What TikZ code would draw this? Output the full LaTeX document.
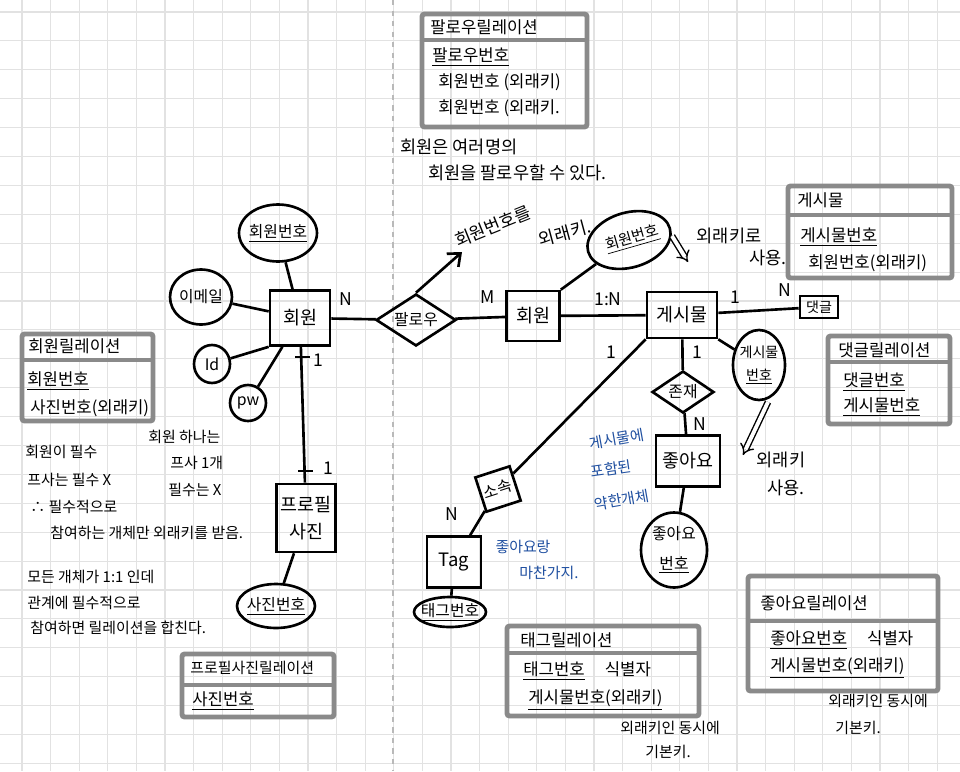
\documentclass[tikz,border=0pt]{standalone}
\usepackage{fontspec}
\setmainfont{Noto Sans CJK KR}
\usepackage{tikz}
\usetikzlibrary{arrows.meta,shapes,positioning,calc}

\definecolor{inkblue}{HTML}{1F4FA0}
\definecolor{gridgray}{HTML}{E2E2E2}
\definecolor{framegray}{HTML}{8A8A8A}

\tikzset{
    entity/.style={draw, line width=1.5pt, inner sep=2pt, font=\fontsize{10.5}{13}\selectfont},
    attr/.style={draw, ellipse, line width=1.5pt, inner sep=0pt},
    attrtext/.style={font=\fontsize{9}{11}\selectfont, align=center, inner sep=0pt},
    rel/.style={draw, diamond, line width=1.5pt, inner sep=0pt},
    reltext/.style={font=\fontsize{9}{11}\selectfont, inner sep=0pt},
    link/.style={line width=1.5pt},
    card/.style={font=\fontsize{10}{12}\selectfont, inner sep=0pt},
    note/.style={font=\fontsize{10}{12}\selectfont, anchor=west, inner sep=0pt},
    smallnote/.style={font=\fontsize{8.5}{10}\selectfont, anchor=west, inner sep=0pt},
    bluenote/.style={font=\fontsize{8.5}{10}\selectfont, text=inkblue, inner sep=0pt},
    reltable/.style={font=\fontsize{9.5}{11}\selectfont, anchor=west, inner sep=0pt},
    relframe/.style={draw=framegray, line width=2.8pt, rounded corners=1.5pt},
    fkarrow/.style={line width=0.8pt, double distance=2.2pt, -{Implies}},
}

\begin{document}
\begin{tikzpicture}[x=0.02cm, y=-0.02cm]

    % page
    \useasboundingbox (0,0) rectangle (960,771);
    \fill[white] (0,0) rectangle (960,771);

    % grid paper
    \foreach \i in {0,...,32} {
        \draw[gridgray, line width=0.6pt] ({22+28.6*\i},0) -- ({22+28.6*\i},771);
    }
    \foreach \j in {0,...,26} {
        \draw[gridgray, line width=0.6pt] (0,{12+28.9*\j}) -- (960,{12+28.9*\j});
    }
    % page fold
    \draw[gray!55, dashed, line width=0.6pt] (393,0) -- (393,771);

    % Helper: relation table, corners (x1,y1) (x2,y2), divider at y
    \newcommand{\relbox}[5]{%
        \draw[relframe] (#1,#2) rectangle (#3,#4);
        \draw[draw=framegray, line width=2.8pt] (#1,#5) -- (#3,#5);
    }

    % ---- entities ----
    \node[entity, minimum width=1.2cm, minimum height=1.1cm] (member) at (300,318) {회원};
    \node[entity, minimum width=1.06cm, minimum height=1.0cm] (memberb) at (533,316) {회원};
    \node[entity, minimum width=1.4cm, minimum height=0.92cm] (post) at (682,315) {게시물};
    \node[entity, minimum width=0.76cm, minimum height=0.44cm, inner sep=1pt,
          font=\fontsize{8}{9}\selectfont] (reply) at (819,307) {댓글};
    \node[entity, minimum width=1.28cm, minimum height=1.02cm] (like) at (688,461) {좋아요};
    \node[entity, minimum width=1.08cm, minimum height=1.02cm] (tag) at (454,562) {Tag};
    \node[entity, minimum width=1.18cm, minimum height=1.36cm, align=center] (profile) at (306,518) {프로필\\[2pt]사진};

    % ---- attributes ----
    \node[attr, minimum width=1.56cm, minimum height=1.14cm,
          label={[attrtext]center:\underline{회원번호}}] (memberno) at (278,233) {};
    \node[attr, minimum width=1.24cm, minimum height=1.1cm,
          label={[attrtext]center:이메일}] (email) at (201,297) {};
    \node[attr, minimum width=0.72cm, minimum height=0.76cm,
          label={[attrtext]center:Id}] (id) at (212,364) {};
    \node[attr, minimum width=0.72cm, minimum height=0.72cm,
          label={[attrtext]center:pw}] (pw) at (248,403) {};
    \node[attr, minimum width=1.7cm, minimum height=1.1cm, rotate=16,
          label={[attrtext, rotate=16, font=\fontsize{8.5}{10}\selectfont, xshift=2pt]center:\underline{회원번호}}] (membernob) at (629,240) {};
    \node[attr, minimum width=1.04cm, minimum height=1.4cm,
          label={[attrtext, font=\fontsize{8}{10}\selectfont]center:게시물\\[3pt]\underline{번호}}] (postno) at (759,365) {};
    \node[attr, minimum width=1.32cm, minimum height=1.5cm,
          label={[attrtext]center:좋아요\\[6pt]\underline{번호}}] (likeno) at (674,550) {};
    \node[attr, minimum width=1.44cm, minimum height=0.6cm,
          label={[attrtext]center:\underline{태그번호}}] (tagno) at (450,612) {};
    \node[attr, minimum width=1.56cm, minimum height=0.88cm,
          label={[attrtext]center:\underline{사진번호}}] (photono) at (276,606) {};

    % ---- relationships ----
    \node[rel, minimum width=1.6cm, minimum height=1.04cm,
          label={[reltext]center:팔로우}] (follow) at (416,320) {};
    \node[rel, minimum width=1.24cm, minimum height=0.84cm,
          label={[reltext]center:존재}] (exist) at (683,392) {};
    \node[draw, line width=1.5pt, minimum size=0.72cm, rotate=18,
          label={[reltext, rotate=18]center:소속}] (belong) at (498,489) {};

    % ---- connectors ----
    \draw[link] (memberno) -- (member);
    \draw[link] (email) -- (member);
    \draw[link] (id) -- (member.south west);
    \draw[link] (pw) -- (member);
    \draw[link] (member) -- (follow);
    \draw[link] (follow) -- (memberb);
    \draw[link] (memberb) -- (post);
    \draw[link] (post) -- (reply);
    \draw[link] (memberb.north east) -- (membernob);
    \draw[link] (post.south east) -- (postno);
    \draw[link] (post) -- (exist);
    \draw[link] (exist) -- (like);
    \draw[link] (like) -- (likeno);
    \draw[link] (post.south west) -- (belong);
    \draw[link] (belong) -- (tag);
    \draw[link] (tag) -- (tagno);
    \draw[link] (member) -- (profile);
    \draw[link] (profile) -- (photono);

    % one-to-one ticks
    \draw[link] (295,357) -- (310,357);
    \draw[link] (298,471) -- (313,471);

    % ---- cardinalities ----
    \node[card] (cardfa) at (346,299) {N};
    \node[card] (cardfb) at (488,297) {M};
    \node[card] (cardmp) at (608,299) {1:N};
    \node[card] (cardpa) at (735,297) {1};
    \node[card] (cardpb) at (785,290) {N};
    \node[card] (cardea) at (697,352) {1};
    \node[card] (cardeb) at (700,424) {N};
    \node[card] (cardba) at (611,352) {1};
    \node[card] (cardbb) at (452,514) {N};
    \node[card] (cardpra) at (318,360) {1};
    \node[card] (cardprb) at (328,468) {1};

    % ---- foreign key arrows ----
    \coordinate (fkhead) at (462,252);
    \draw[link, -{Straight Barb[length=6pt, width=10pt]}] (follow.north) -- (fkhead);
    \node[note, anchor=center, rotate=22] (fknotea) at (493,226) {회원번호를};
    \node[note, anchor=center, rotate=15] (fknoteb) at (565,233) {외래키.};

    \coordinate (fkpa) at (672,236);
    \coordinate (fkpb) at (688,262);
    \draw[fkarrow] (fkpa) -- (fkpb);
    \node[note, anchor=center] (fkpnotea) at (729,236) {외래키로};
    \node[note, anchor=center] (fkpnoteb) at (768,258) {사용.};

    \coordinate (fkla) at (768,402);
    \coordinate (fklb) at (743,455);
    \draw[fkarrow] (fkla) -- (fklb);
    \node[note, anchor=center] (fklnotea) at (781,460) {외래키};
    \node[note, anchor=center] (fklnoteb) at (786,488) {사용.};

    % ---- blue notes ----
    \node[bluenote, rotate=10] (weaknotea) at (617,439) {게시물에};
    \node[bluenote, rotate=8] (weaknoteb) at (611,469) {포함된};
    \node[bluenote, rotate=10] (weaknotec) at (622,500) {약한개체};
    \node[bluenote] (tagnotea) at (523,547) {좋아요랑};
    \node[bluenote] (tagnoteb) at (549,573) {마찬가지.};

    % ---- follow relation ----
    \relbox{422}{14}{587}{127}{40}
    \node[reltable] (followhead) at (430,27) {팔로우릴레이션};
    \node[reltable] (followa) at (432,57) {\underline{팔로우번호}};
    \node[reltable] (followb) at (438,82) {회원번호 (외래키)};
    \node[reltable] (followc) at (438,108) {회원번호 (외래키.};
    \node[note] (follownotea) at (400,147) {회원은 여러명의};
    \node[note] (follownoteb) at (428,173) {회원을 팔로우할 수 있다.};

    % ---- post relation ----
    \relbox{788}{186}{952}{278}{215}
    \node[reltable] (posthead) at (797,200) {게시물};
    \node[reltable] (posta) at (800,237) {\underline{게시물번호}};
    \node[reltable] (postb) at (808,263) {회원번호(외래키)};

    % ---- reply relation ----
    \relbox{828}{336}{950}{424}{362}
    \node[reltable] (replyhead) at (838,350) {댓글릴레이션};
    \node[reltable] (replya) at (843,382) {\underline{댓글번호}};
    \node[reltable] (replyb) at (843,407) {\underline{게시물번호}};

    % ---- member relation ----
    \relbox{22}{334}{153}{421}{360}
    \node[reltable] (memberhead) at (28,346) {회원릴레이션};
    \node[reltable] (membera) at (27,381) {\underline{회원번호}};
    \node[reltable] (memberrow) at (30,408) {사진번호(외래키)};

    % ---- profile photo relation ----
    \relbox{182}{654}{334}{717}{685}
    \node[reltable, font=\fontsize{8.5}{10}\selectfont] (profilehead) at (190,668) {프로필사진릴레이션};
    \node[reltable] (profilea) at (192,701) {\underline{사진번호}};

    % ---- tag relation ----
    \relbox{507}{626}{699}{716}{653}
    \node[reltable] (taghead) at (520,640) {태그릴레이션};
    \node[reltable] (taga) at (523,671) {\underline{태그번호}\hspace{1.2em}식별자};
    \node[reltable] (tagb) at (528,700) {\underline{게시물번호(외래키)}};
    \node[smallnote] (tagnotec) at (620,728) {외래키인 동시에};
    \node[smallnote] (tagnoted) at (645,752) {기본키.};

    % ---- like relation ----
    \relbox{748}{576}{938}{691}{621}
    \node[reltable] (likehead) at (760,603) {좋아요릴레이션};
    \node[reltable] (likea) at (770,640) {\underline{좋아요번호}\hspace{1.2em}식별자};
    \node[reltable] (likeb) at (770,668) {\underline{게시물번호(외래키)}};
    \node[smallnote] (likenotea) at (828,701) {외래키인 동시에};
    \node[smallnote] (likenoteb) at (835,728) {기본키.};

    % ---- notes left ----
    \node[smallnote] (notea) at (25,452) {회원이 필수};
    \node[smallnote] (noteb) at (27,480) {프사는 필수 X};
    \node[smallnote] (notec) at (30,507) {∴ 필수적으로};
    \node[smallnote] (noted) at (50,533) {참여하는 개체만 외래키를 받음.};
    \node[smallnote] (notee) at (148,437) {회원 하나는};
    \node[smallnote] (notef) at (170,463) {프사 1개};
    \node[smallnote] (noteg) at (168,490) {필수는 X};
    \node[smallnote] (noteh) at (27,577) {모든 개체가 1:1 인데};
    \node[smallnote] (notei) at (27,603) {관계에 필수적으로};
    \node[smallnote] (notej) at (30,628) {참여하면 릴레이션을 합친다.};

\end{tikzpicture}
\end{document}
